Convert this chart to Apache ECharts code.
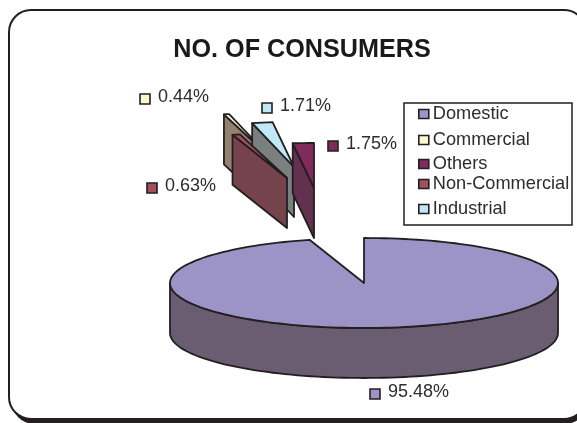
<!DOCTYPE html>
<html>
<head>
<meta charset="utf-8">
<style>html,body{margin:0;padding:0;background:#fff;overflow:hidden}#chart{width:577px;height:423px}</style>
<script src="https://cdn.jsdelivr.net/npm/echarts@6/dist/echarts.min.js"></script>
</head>
<body>
<div id="chart"></div>
<script>
// Share of consumers by category, in the clockwise order of the slices.
const categories = ['Domestic', 'Non-Commercial', 'Commercial', 'Industrial', 'Others'];
const shares = [95.48, 0.63, 0.44, 1.71, 1.75];
const legendOrder = ['Domestic', 'Commercial', 'Others', 'Non-Commercial', 'Industrial'];
const chartTitle = 'NO. OF CONSUMERS';

// Pie geometry: tilted disc with a fixed rim depth.
const pie = { cx: 364, cy: 283, rx: 194, ry: 45, depth: 50 };
const INK = '#231f20';
const TEXT = '#2e2c2d';
const FONT = '"Liberation Sans", Arial, sans-serif';

// Per-category appearance, explosion offset and value label placement.
const look = {
  'Domestic':       { top: '#9c93c6', wall: '#6a5d72', shift: [0, 0],       marker: [370, 389], z: 1 },
  'Commercial':     { top: '#fdf8d2', wall: '#948270', shift: [-93, -125],  marker: [140, 94],  z: 2 },
  'Industrial':     { top: '#c2e7f6', wall: '#7a7f80', shift: [-70, -116],  marker: [262, 103], z: 3 },
  'Others':         { top: '#812a5c', wall: '#633050', shift: [-50, -95],   marker: [328, 141], z: 4 },
  'Non-Commercial': { top: '#a4505c', wall: '#75434c', shift: [-77, -105],  marker: [147, 183], z: 5 }
};

const rad = d => d * Math.PI / 180;
const total = shares.reduce((a, b) => a + b, 0);

// Point on the rim; the angle runs clockwise from 12 o'clock.
function rimPoint(c, a, dy) {
  return [c[0] + pie.rx * Math.sin(rad(a)), c[1] - pie.ry * Math.cos(rad(a)) + (dy || 0)];
}
function arcPoints(c, a0, a1, dy) {
  const pts = [];
  const n = Math.max(2, Math.ceil(Math.abs(a1 - a0) / 2));
  for (let i = 0; i <= n; i++) pts.push(rimPoint(c, a0 + (a1 - a0) * i / n, dy));
  return pts;
}

function sliceSeries(name) {
  const idx = categories.indexOf(name);
  const value = shares[idx];
  const before = shares.slice(0, idx).reduce((a, b) => a + b, 0);
  const a0 = before / total * 360;
  const a1 = (before + value) / total * 360;
  const st = look[name];
  return {
    type: 'custom',
    name,
    coordinateSystem: 'none',
    silent: true,
    z: st.z,
    itemStyle: { color: st.top },
    data: [[value]],
    renderItem(params, api) {
      const v = api.value(0);
      const c = [pie.cx + st.shift[0], pie.cy + st.shift[1]];
      const wallStyle = { fill: st.wall, stroke: INK, lineWidth: 1.8, lineJoin: 'round' };
      const topStyle = { fill: st.top, stroke: INK, lineWidth: 1.8, lineJoin: 'round' };
      const children = [];
      const face = (pts, style) => children.push({ type: 'polygon', shape: { points: pts }, style });

      // Straight cut faces show only when they turn towards the viewer.
      const cutFace = a => {
        const p = rimPoint(c, a);
        face([p, c, [c[0], c[1] + pie.depth], [p[0], p[1] + pie.depth]], wallStyle);
      };
      if (Math.sin(rad(a0)) < -1e-6) cutFace(a0);
      if (Math.sin(rad(a1)) > 1e-6) cutFace(a1);

      // Curved rim: only its front half can be seen.
      const f0 = Math.max(a0, 90), f1 = Math.min(a1, 270);
      if (f1 > f0) {
        face(arcPoints(c, f0, f1).concat(arcPoints(c, f1, f0, pie.depth)), wallStyle);
      }
      face([c].concat(arcPoints(c, a0, a1)), topStyle);

      // Value label: square key plus the percentage.
      children.push({
        type: 'rect',
        shape: { x: st.marker[0], y: st.marker[1], width: 10, height: 10 },
        style: { fill: st.top, stroke: INK, lineWidth: 1.6 }
      });
      children.push({
        type: 'text',
        x: st.marker[0] + 18,
        y: st.marker[1] + 3,
        style: {
          text: v.toFixed(2) + '%', fill: TEXT,
          font: '18px ' + FONT, textVerticalAlign: 'middle', textAlign: 'left'
        }
      });
      return { type: 'group', children };
    }
  };
}

// One single-entry legend per row so that each row keeps its own height.
const legendRowTops = [105, 131, 155, 175, 200];
const legends = legendOrder.map((name, i) => ({
  left: 418,
  top: legendRowTops[i],
  orient: 'vertical',
  selectedMode: false,
  itemWidth: 10,
  itemHeight: 9,
  itemGap: 0,
  padding: 0,
  textStyle: { fontFamily: FONT, fontSize: 18.2, color: TEXT, padding: [0, 0, 0, -1] },
  data: [{
    name,
    icon: 'rect',
    itemStyle: { color: look[name].top, borderColor: INK, borderWidth: 1.6 }
  }]
}));

const chart = echarts.init(document.getElementById('chart'), null, { renderer: 'canvas' });
chart.setOption({
  animation: false,
  backgroundColor: '#fff',
  title: {
    text: chartTitle,
    left: 297,
    top: 33,
    textAlign: 'center',
    textStyle: { fontFamily: FONT, fontSize: 25.2, fontWeight: 'bold', color: '#1a1a1a' }
  },
  legend: legends,
  graphic: [
    {
      // Drop shadow of the frame, visible along the lower edge.
      type: 'rect',
      z: -11,
      shape: { x: 12, y: 15, width: 575, height: 409, r: 22 },
      style: { fill: INK }
    },
    {
      type: 'rect',
      z: -10,
      shape: { x: 9, y: 10, width: 577, height: 409, r: 22 },
      style: { fill: '#fff', stroke: INK, lineWidth: 2 }
    },
    {
      type: 'rect',
      z: -9,
      shape: { x: 404, y: 103, width: 168, height: 122 },
      style: { fill: '#fff', stroke: INK, lineWidth: 1.5 }
    }
  ],
  series: ['Domestic', 'Commercial', 'Industrial', 'Others', 'Non-Commercial'].map(sliceSeries)
});
</script>
</body>
</html>
